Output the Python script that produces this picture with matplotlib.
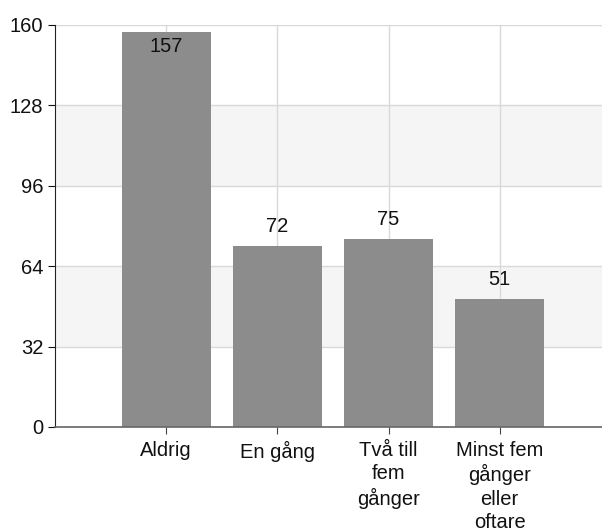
import numpy as np
import matplotlib.pyplot as plt

plt.rcParams['font.family'] = ['Liberation Sans', 'DejaVu Sans']

# data
categories = ['Aldrig', 'En gång', 'Två till\nfem\ngånger', 'Minst fem\ngånger\neller\noftare']
values = [157, 72, 75, 51]
yticks = [0, 32, 64, 96, 128, 160]

fig = plt.figure(figsize=(6.02, 5.31), dpi=100)
ax = fig.add_axes([0.0914, 0.196, 0.9086, 0.757])

x = np.arange(len(categories))

# alternating bands
for i in range(len(yticks) - 1):
    if i % 2 == 1:
        ax.axhspan(yticks[i], yticks[i + 1], color='#f5f5f5', zorder=0, lw=0)

ax.grid(True, color='#d9d9d9', linewidth=1, zorder=1)
ax.set_axisbelow(True)

bars = ax.bar(x, values, width=0.8, color='#8c8c8c', zorder=2)

# value labels
for xi, v in zip(x, values):
    if v > 150:
        ax.annotate(str(v), (xi, v), xytext=(0, -3), textcoords='offset points',
                    ha='center', va='top', fontsize=14.5, color='#111111', zorder=3)
    else:
        ax.annotate(str(v), (xi, v), xytext=(0, 7), textcoords='offset points',
                    ha='center', va='bottom', fontsize=14.5, color='#111111', zorder=3)

ax.set_xlim(-1, 3.92)
ax.set_ylim(0, 160)
ax.set_yticks(yticks)
ax.set_xticks(x)
ax.set_xticklabels(categories, linespacing=1.27)
ax.tick_params(axis='both', labelsize=14.5, colors='#111111', length=5)
ax.tick_params(axis='x', colors='#444444', pad=5)
for lab in ax.get_xticklabels():
    lab.set_color('#111111')

for s in ['top', 'right']:
    ax.spines[s].set_visible(False)
ax.spines['left'].set_color('#222222')
ax.spines['bottom'].set_color('#666666')
ax.spines['bottom'].set_linewidth(1.2)

fig.savefig('out.png', dpi=100)
